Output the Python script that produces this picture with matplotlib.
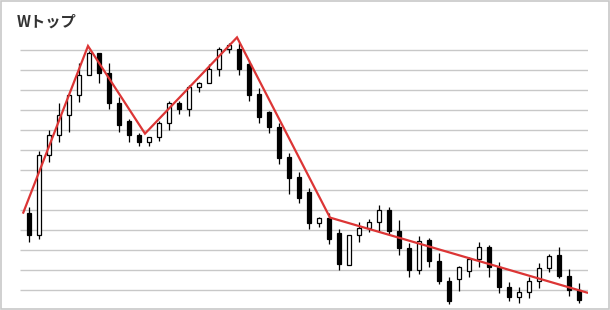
"""
candlestick chart with a W top pattern traced in red
"""

import matplotlib
matplotlib.use("Agg")
import matplotlib.pyplot as plt
from matplotlib.patches import Rectangle

# candle values (price units, grid step = 10)
opens = [38.3, 27.3, 67.3, 77.3, 87.3, 97.3, 107.5, 118.3, 108.3, 93.3,
         84.5, 77.5, 74.2, 76.3, 83.3, 93.3, 90.3, 101.3, 103.3, 110.3,
         120.3, 120.3, 112.8, 97.8, 88.8, 81.3, 66.3, 56.3, 48.8, 33.7,
         35.8, 28.3, 12.3, 27.3, 30.8, 33.8, 40.0, 29.7, 20.8, 9.8,
         24.8, 14.7, 4.7, 5.3, 9.3, 15.3, 21.3, 11.3, 1.3, -3.7,
         -1.2, 4.7, 10.8, 17.3, 7.2, 0.2]
closes = [27.3, 67.3, 77.3, 87.3, 97.3, 107.3, 118.5, 108.3, 93.3, 82.3,
          77.3, 74.2, 76.3, 83.3, 93.3, 90.3, 101.3, 103.3, 110.3, 120.3,
          122.3, 110.3, 97.7, 86.7, 81.7, 66.2, 56.2, 46.2, 33.7, 35.8,
          25.7, 13.2, 27.3, 30.8, 33.8, 40.0, 29.7, 20.8, 9.8, 24.7,
          14.7, 4.7, -5.3, 11.3, 15.3, 21.3, 11.3, 1.3, -3.7, -1.2,
          4.7, 10.8, 16.8, 7.2, 0.2, -5.0]
highs = [41.3, 69.3, 80.0, 93.3, 97.8, 113.3, 119.5, 118.5, 113.3, 96.7,
         85.3, 78.7, 76.3, 84.5, 94.7, 94.7, 102.5, 104.2, 113.0, 121.3,
         123.3, 123.3, 115.0, 100.8, 89.7, 83.3, 68.3, 58.8, 50.8, 36.7,
         38.3, 30.3, 27.3, 33.8, 35.5, 42.5, 41.3, 35.0, 23.5, 27.0,
         26.2, 18.3, 6.3, 12.2, 16.7, 23.8, 22.5, 14.2, 4.2, 1.7,
         6.3, 13.3, 18.0, 21.3, 10.3, 3.3]
lows = [24.2, 25.3, 64.2, 74.2, 79.2, 94.2, 107.3, 103.3, 90.3, 79.2,
        74.2, 72.2, 72.2, 74.5, 80.0, 88.0, 87.2, 99.2, 103.3, 107.2,
        118.3, 107.5, 94.7, 83.7, 78.7, 63.2, 48.2, 43.7, 30.7, 31.7,
        23.0, 10.2, 12.3, 24.2, 29.2, 29.2, 28.0, 17.5, 6.5, 7.8,
        11.7, 3.0, -6.8, -0.3, 6.3, 11.3, 6.7, -1.7, -5.3, -6.7,
        -4.2, 0.8, 8.8, 5.8, -2.8, -6.7]

# red W top outline (x in candle index units)
line_x = [-0.57, 5.9, 11.6, 20.8, 30.1, 55.8]
line_y = [38.7, 122.0, 78.2, 126.3, 36.2, -1.3]

grid_levels = list(range(0, 130, 10))

W, H = 610, 310


def draw_chart():
    fig = plt.figure(figsize=(W / 100, H / 100), dpi=100)
    fig.patch.set_facecolor("white")

    # plot area: x 20..588 px, y 30..305 px
    ax = fig.add_axes([20 / W, (H - 305) / H, 568 / W, 275 / H])
    ax.set_xlim(-0.9, 55.9)
    ax.set_ylim(-7.5, 130)
    ax.axis("off")

    # horizontal grid
    ax.hlines(grid_levels, -0.9, 55.9, colors="#c8c8c8", linewidth=1.0, zorder=0)

    # candles
    body_w = 0.45
    for i, (o, h, l, c) in enumerate(zip(opens, highs, lows, closes)):
        top = max(o, c)
        bot = min(o, c)
        ax.plot([i, i], [top, h], color="black", linewidth=0.9, zorder=2,
                solid_capstyle="butt")
        ax.plot([i, i], [l, bot], color="black", linewidth=0.9, zorder=2,
                solid_capstyle="butt")
        face = "black" if c < o else "white"
        ax.add_patch(Rectangle((i - body_w / 2, bot), body_w, top - bot,
                               facecolor=face, edgecolor="black",
                               linewidth=0.9, zorder=3))

    # W top outline
    ax.plot(line_x, line_y, color="#dc3535", linewidth=1.6, zorder=4,
            solid_joinstyle="miter")

    # title
    fig.text(17 / W, 1 - 22 / H, "Wトップ", fontsize=11, color="#333333",
             fontweight="bold", family=["Noto Sans CJK JP", "DejaVu Sans"],
             va="center", ha="left")

    # light frame around the whole picture
    fig.patches.append(Rectangle((1 / W, 1 / H), 608 / W, 308 / H,
                                 transform=fig.transFigure, fill=False,
                                 edgecolor="#c8c8c8", linewidth=1.2))

    fig.savefig("out.png", dpi=100)
    plt.close(fig)


if __name__ == "__main__":
    draw_chart()
